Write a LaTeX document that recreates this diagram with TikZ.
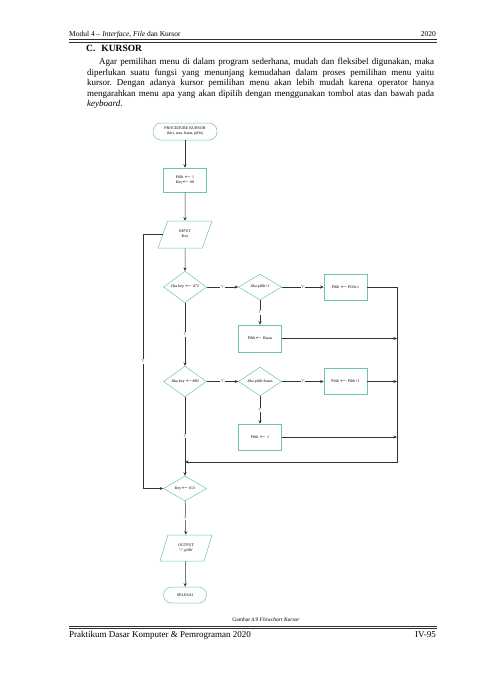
\documentclass[tikz,border=0pt]{standalone}
\usepackage{fontspec}
\setmainfont{Liberation Serif}
\usetikzlibrary{arrows.meta,positioning,shapes.geometric}
\definecolor{tosca}{RGB}{110,195,185}
\definecolor{garis}{RGB}{35,50,60}
\frenchspacing

\begin{document}
\begin{tikzpicture}[x=1pt, y=-1pt, >=Stealth,
  kotak/.style={draw=tosca, line width=0.5pt, minimum width=43pt, minimum height=26pt,
    inner sep=1pt, font=\fontsize{4}{5}\selectfont, align=center},
  terminal/.style={kotak, rounded corners=8pt, minimum height=17pt},
  jajar/.style={kotak, trapezium, trapezium left angle=70, trapezium right angle=110,
    trapezium stretches=true, minimum width=54pt, minimum height=27pt},
  keputusan/.style={kotak, diamond, inner sep=0pt},
  alur/.style={draw=black!80, line width=0.5pt, -{Stealth[length=3.5pt,width=3pt]}},
  ket/.style={font=\fontsize{4.5}{5}\selectfont, text=black!60, fill=white, inner sep=0.6pt}]
  \fill[white] (0,0) rectangle (480,678);
  \useasboundingbox (0,0) rectangle (480,678);

  % kepala halaman
  \node[anchor=base west, inner sep=0, font=\fontsize{7.5}{9}\selectfont] (modul) at (69,36)
    {Modul 4 -- \textit{Interface, File} dan Kursor};
  \node[anchor=base east, inner sep=0, font=\fontsize{7.5}{9}\selectfont] (tahun) at (436,36) {2020};
  \draw[garis, line width=1.3pt] (69,39.8) -- (437,39.8);
  \draw[garis, line width=0.5pt] (69,42.3) -- (437,42.3);

  % isi teks
  \node[anchor=base west, inner sep=0, font=\fontsize{9.5}{11}\bfseries] (subjudul) at (86,51.5)
    {C.\hspace{6pt}KURSOR};
  \node[anchor=north west, inner sep=0, text width=347pt, align=justify,
    font=\fontsize{9}{10.45}\selectfont] (paragraf) at (87,58.2)
    {\hspace*{12pt}Agar pemilihan menu di dalam program sederhana, mudah dan fleksibel digunakan, maka\linebreak
     diperlukan suatu fungsi yang menunjang kemudahan dalam proses pemilihan menu yaitu\linebreak
     kursor. Dengan adanya kursor pemilihan menu akan lebih mudah karena operator hanya\linebreak
     mengarahkan menu apa yang akan dipilih dengan menggunakan tombol atas dan bawah pada\linebreak
     \textit{keyboard}.};

  % flowchart
  \node[terminal, minimum width=64pt] (mulai) at (185,131.5) {PROCEDURE KURSOR\\(kiri, atas, batas, pilih)};
  \node[kotak, minimum height=24pt] (awal) at (185,180) {Pilih $\leftarrow$ 1\\Key$\leftarrow$ \#0};
  \node[jajar] (masuk) at (185,234.5) {INPUT\\Key};
  \node[keputusan] (cekatas) at (185,287) {Jika key $\leftarrow$ \#72};
  \node[keputusan] (cekmin) at (260,287) {Jika pilih>1};
  \node[kotak] (kurang) at (345.5,287) {Pilih $\leftarrow$ Pilih-1};
  \node[kotak, minimum height=27pt] (kebatas) at (260,338.5) {Pilih$\leftarrow$ Batas};
  \node[keputusan] (cekbawah) at (185,381.5) {Jika key $\leftarrow$\#80};
  \node[keputusan] (cekmaks) at (260,381.5) {Jika pilih<batas};
  \node[kotak] (tambah) at (345.5,381.5) {Pilih $\leftarrow$ Pilih+1};
  \node[kotak] (keawal) at (260,437) {Pilih $\leftarrow$ 1};
  \node[keputusan, minimum height=25pt] (cekenter) at (185,488.5) {Key$\leftarrow$ \#13};
  \node[jajar, minimum width=52pt, minimum height=26pt] (keluar) at (186,548) {OUTPUT\\'>';pilih'};
  \node[terminal, minimum height=16pt] (selesai) at (185,595) {SELESAI};

  \coordinate (sudutatas) at (397,287);
  \coordinate (sudutbawah) at (397,462);
  \coordinate (temu) at (185,462);
  \coordinate (kiri) at (143,0);

  \draw[alur] (mulai) -- (awal);
  \draw[alur] (awal) -- (masuk);
  \draw[alur] (masuk) -- (cekatas);
  \draw[alur] (cekatas) -- node[ket] {Y} (cekmin);
  \draw[alur] (cekmin) -- node[ket] {Y} (kurang);
  \draw[alur] (cekmin) -- node[ket] {T} (kebatas);
  \draw[alur] (cekatas) -- node[ket] {T} (cekbawah);
  \draw[alur] (cekbawah) -- node[ket] {Y} (cekmaks);
  \draw[alur] (cekmaks) -- node[ket] {Y} (tambah);
  \draw[alur] (cekmaks) -- node[ket] {T} (keawal);
  \draw[alur] (cekbawah) -- node[ket] {T} (cekenter);
  \draw[alur] (kurang) -- (sudutatas) -- (sudutbawah) -- (temu);
  \draw[alur] (kebatas) -- (kebatas -| sudutatas);
  \draw[alur] (tambah) -- (tambah -| sudutatas);
  \draw[alur] (keawal) -- (keawal -| sudutatas);
  \draw[alur] (masuk.west) -- (masuk.west -| kiri) -- node[ket] {T} (kiri |- cekenter) -- (cekenter.west);
  \draw[alur] (cekenter) -- node[ket] {Y} (keluar);
  \draw[alur] (keluar) -- (selesai);

  \node[font=\fontsize{5.5}{7}\selectfont, inner sep=0] (judulgambar) at (266,619.5)
    {Gambar 4.9 \textit{Flowchart Kursor}};

  % kaki halaman
  \draw[garis, line width=1.3pt] (69,626.2) -- (437,626.2);
  \draw[garis, line width=0.5pt] (69,628.6) -- (437,628.6);
  \node[anchor=base west, inner sep=0, font=\fontsize{9}{11}\selectfont] (praktikum) at (69,637.5)
    {Praktikum Dasar Komputer \& Pemrograman 2020};
  \node[anchor=base east, inner sep=0, font=\fontsize{9}{11}\selectfont] (halaman) at (436,637.5) {IV-95};
\end{tikzpicture}
\end{document}
